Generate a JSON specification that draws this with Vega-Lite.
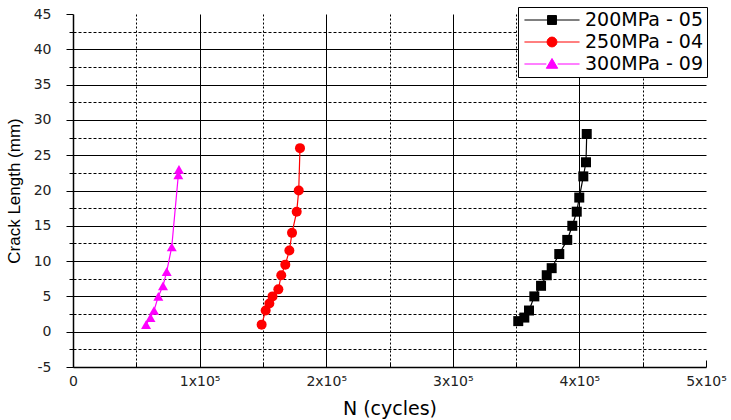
{
  "$schema": "https://vega.github.io/schema/vega-lite/v6.json",
  "width": 633,
  "height": 353,
  "autosize": {"type": "none"},
  "padding": {"left": 73, "top": 14, "right": 25, "bottom": 53},
  "background": "white",
  "config": {
    "view": {"stroke": null},
    "axis": {"domainColor": "black", "domainWidth": 1.5, "tickColor": "black", "gridColor": "black", "gridWidth": 1, "labelFont": "DejaVu Sans", "labelFontSize": 14, "labelColor": "#222", "titleColor": "black", "titleFontWeight": "normal"}
  },
  "data": {"values": [
    {"series": "200MPa - 05", "N": 351700, "L": 1.5},
    {"series": "200MPa - 05", "N": 356500, "L": 2},
    {"series": "200MPa - 05", "N": 360200, "L": 3},
    {"series": "200MPa - 05", "N": 364400, "L": 5},
    {"series": "200MPa - 05", "N": 369700, "L": 6.5},
    {"series": "200MPa - 05", "N": 374200, "L": 8},
    {"series": "200MPa - 05", "N": 378100, "L": 9},
    {"series": "200MPa - 05", "N": 384100, "L": 11},
    {"series": "200MPa - 05", "N": 390400, "L": 13},
    {"series": "200MPa - 05", "N": 394400, "L": 15},
    {"series": "200MPa - 05", "N": 397900, "L": 17},
    {"series": "200MPa - 05", "N": 399900, "L": 19},
    {"series": "200MPa - 05", "N": 403100, "L": 22},
    {"series": "200MPa - 05", "N": 405200, "L": 24},
    {"series": "200MPa - 05", "N": 405800, "L": 28},
    {"series": "250MPa - 04", "N": 149000, "L": 1},
    {"series": "250MPa - 04", "N": 152200, "L": 3},
    {"series": "250MPa - 04", "N": 155100, "L": 4},
    {"series": "250MPa - 04", "N": 157600, "L": 5},
    {"series": "250MPa - 04", "N": 162200, "L": 6},
    {"series": "250MPa - 04", "N": 164500, "L": 8},
    {"series": "250MPa - 04", "N": 167700, "L": 9.5},
    {"series": "250MPa - 04", "N": 170900, "L": 11.5},
    {"series": "250MPa - 04", "N": 173000, "L": 14},
    {"series": "250MPa - 04", "N": 176700, "L": 17},
    {"series": "250MPa - 04", "N": 178300, "L": 20},
    {"series": "250MPa - 04", "N": 179300, "L": 26},
    {"series": "300MPa - 09", "N": 57700, "L": 1},
    {"series": "300MPa - 09", "N": 61200, "L": 2},
    {"series": "300MPa - 09", "N": 64000, "L": 3},
    {"series": "300MPa - 09", "N": 67400, "L": 5},
    {"series": "300MPa - 09", "N": 71100, "L": 6.5},
    {"series": "300MPa - 09", "N": 74000, "L": 8.5},
    {"series": "300MPa - 09", "N": 78000, "L": 12},
    {"series": "300MPa - 09", "N": 83200, "L": 22.2},
    {"series": "300MPa - 09", "N": 83700, "L": 23}
  ]},
  "encoding": {
    "x": {
      "field": "N", "type": "quantitative",
      "scale": {"domain": [0, 500000], "nice": false, "zero": false},
      "axis": {
        "title": "N (cycles)", "titleFont": "DejaVu Sans", "titleFontSize": 19, "titlePadding": 11,
        "values": [0, 50000, 100000, 150000, 200000, 250000, 300000, 350000, 400000, 450000, 500000],
        "labelExpr": "datum.value == 0 ? '0' : (datum.value % 100000 == 0 ? (datum.value / 100000) + 'x10⁵' : '')",
        "labelPadding": 14,
        "labelFlush": false,
        "grid": true,
        "gridDash": {"condition": {"test": "datum.value % 100000 != 0", "value": [2, 2]}, "value": []},
        "gridOpacity": {"condition": {"test": "datum.value == 0 || datum.value == 500000", "value": 0}, "value": 1},
        "tickSize": {"condition": {"test": "datum.value % 100000 != 0", "value": -5}, "value": -7}
      }
    },
    "y": {
      "field": "L", "type": "quantitative",
      "scale": {"domain": [-5, 45], "nice": false, "zero": false},
      "axis": {
        "title": "Crack Length  (mm)", "titleFont": "Liberation Sans", "titleFontSize": 17,
        "titleX": -50, "titleY": 176.5, "titleAlign": "center", "titleBaseline": "bottom", "titleAngle": -90,
        "values": [-5, -2.5, 0, 2.5, 5, 7.5, 10, 12.5, 15, 17.5, 20, 22.5, 25, 27.5, 30, 32.5, 35, 37.5, 40, 42.5, 45],
        "labelExpr": "datum.value % 5 == 0 ? '' + datum.value : ''",
        "labelPadding": 15,
        "labelFlush": false,
        "grid": true,
        "gridDash": {"condition": {"test": "datum.value % 5 != 0", "value": [3, 2]}, "value": []},
        "gridOpacity": {"condition": {"test": "datum.value == -5 || datum.value == 45", "value": 0}, "value": 1},
        "tickSize": {"condition": {"test": "datum.value % 5 != 0", "value": 4}, "value": 7}
      }
    },
    "color": {"field": "series", "type": "nominal",
      "scale": {"domain": ["200MPa - 05", "250MPa - 04", "300MPa - 09"], "range": ["#000000", "#ff0000", "#ff00ff"]},
      "legend": {
        "title": null, "orient": "none", "legendX": 445, "legendY": -7,
        "fillColor": "white", "strokeColor": "black", "padding": 3, "rowPadding": 2,
        "labelFont": "DejaVu Sans", "labelFontSize": 19, "labelColor": "black", "labelOffset": 23,
        "symbolSize": 361, "symbolOffset": 21,
        "encode": {"symbols": {"update": {
          "shape": {"signal": "datum.value == '200MPa - 05' ? 'M-2.9,0H-0.47M0.47,0H2.9M-0.47,-0.47H0.47V0.47H-0.47Z' : (datum.value == '250MPa - 04' ? 'M-2.9,0H-0.52M0.52,0H2.9M-0.52,0A0.52,0.52 0 1,0 0.52,0A0.52,0.52 0 1,0 -0.52,0Z' : 'M-2.9,0H-0.6M0.6,0H2.9M0,-0.58L0.6,0.45H-0.6Z')"},
          "fill": {"scale": "color", "field": "value"},
          "stroke": {"scale": "color", "field": "value"},
          "strokeWidth": {"value": 1},
          "size": {"value": 361},
          "opacity": {"value": 1}
        }}}
      }
    }
  },
  "layer": [
    {
      "mark": {"type": "line", "strokeWidth": 1.2}
    },
    {
      "mark": {"type": "point", "filled": true, "size": 100, "opacity": 1},
      "encoding": {
        "shape": {"field": "series", "type": "nominal", "legend": null,
          "scale": {"domain": ["300MPa - 09", "250MPa - 04", "200MPa - 05"], "range": ["triangle-up", "circle", "square"]}}
      }
    }
  ]
}
